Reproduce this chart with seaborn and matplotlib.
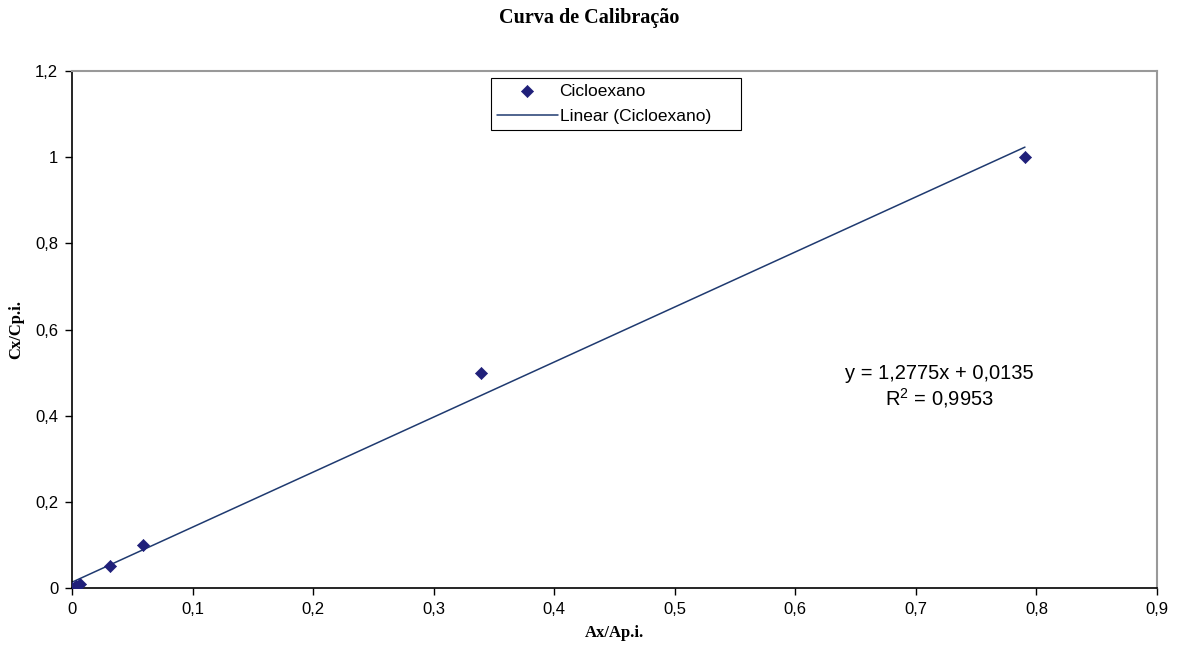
import numpy as np
import pandas as pd
import seaborn as sns
import matplotlib.pyplot as plt

# dados
ax_api = [0.0, 0.0015, 0.0035, 0.0065, 0.0315, 0.0588, 0.339, 0.7905]
cx_cpi = [0.0, 0.001, 0.005, 0.01, 0.05, 0.1, 0.5, 1.0]
slope = 1.2775
intercept = 0.0135
r2 = 0.9953

x_ticks = [0, 0.1, 0.2, 0.3, 0.4, 0.5, 0.6, 0.7, 0.8, 0.9]
x_labels = ['0', '0,1', '0,2', '0,3', '0,4', '0,5', '0,6', '0,7', '0,8', '0,9']
y_ticks = [0, 0.2, 0.4, 0.6, 0.8, 1.0, 1.2]
y_labels = ['0', '0,2', '0,4', '0,6', '0,8', '1', '1,2']

sns.set_style('white')
plt.rcParams['font.family'] = ['Liberation Sans', 'DejaVu Sans']
plt.rcParams['text.color'] = 'black'
plt.rcParams['axes.labelcolor'] = 'black'
plt.rcParams['xtick.color'] = 'black'
plt.rcParams['ytick.color'] = 'black'

df = pd.DataFrame({'x': ax_api, 'y': cx_cpi})
xs = np.array([min(ax_api), max(ax_api)])
linha = pd.DataFrame({'x': xs, 'y': slope * xs + intercept})

fig = plt.figure(figsize=(11.79, 6.48), dpi=100)
ax = fig.add_axes([0.0611, 0.0926, 0.9202, 0.7978])

sns.lineplot(data=linha, x='x', y='y', ax=ax, color='#1f3a70', linewidth=1.1,
             label='Linear (Cicloexano)', zorder=2)
sns.scatterplot(data=df, x='x', y='y', ax=ax, marker='D', s=38, color='#20207a',
                edgecolor='#20207a', label='Cicloexano', zorder=3)

ax.set_xlim(0, 0.9)
ax.set_ylim(0, 1.2)
ax.set_xticks(x_ticks)
ax.set_xticklabels(x_labels)
ax.set_yticks(y_ticks)
ax.set_yticklabels(y_labels)
ax.tick_params(axis='both', direction='out', length=5, width=1, color='black',
               labelsize=12, pad=5, bottom=True, left=True)

for s in ['left', 'bottom']:
    ax.spines[s].set_color('black')
    ax.spines[s].set_linewidth(1.2)
for s in ['top', 'right']:
    ax.spines[s].set_color('#999999')
    ax.spines[s].set_linewidth(1.5)

ax.set_xlabel('Ax/Ap.i.', family=['Liberation Serif'], fontweight='bold', fontsize=12, labelpad=6)
ax.set_ylabel('Cx/Cp.i.', family=['Liberation Serif'], fontweight='bold', fontsize=12, labelpad=8)
fig.text(0.5, 0.972, 'Curva de Calibração', ha='center', va='center',
         family=['Liberation Serif'], fontweight='bold', fontsize=14.5)

ax.text(0.7195, 0.499, 'y = 1,2775x + 0,0135', ha='center', va='center', fontsize=14.5)
ax.text(0.7195, 0.441, '$\\mathregular{R^2}$ = ' + f'{r2}'.replace('.', ','), ha='center',
        va='center', fontsize=14.5)

handles, labels = ax.get_legend_handles_labels()
order = [labels.index('Cicloexano'), labels.index('Linear (Cicloexano)')]
leg = ax.legend([handles[i] for i in order], [labels[i] for i in order],
                loc='upper left', bbox_to_anchor=(0.3862, 0.887, 0.2304, 0.1),
                mode='expand', fontsize=12.5,
                frameon=True, fancybox=False, edgecolor='black', framealpha=1,
                borderpad=0.35, handlelength=3.5, handletextpad=0.1, labelspacing=0.55,
                borderaxespad=0)
leg.get_frame().set_linewidth(0.8)

fig.savefig('out.png', dpi=100)
